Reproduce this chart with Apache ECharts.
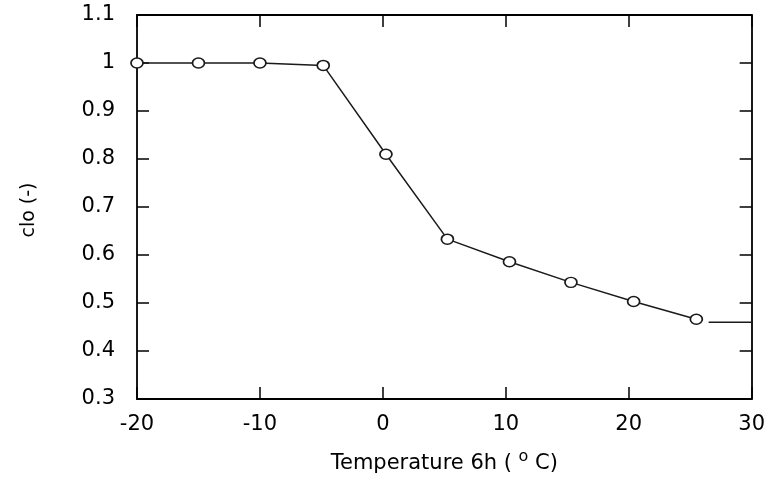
<!DOCTYPE html>
<html>
<head>
<meta charset="utf-8">
<script src="https://cdn.jsdelivr.net/npm/echarts@6/dist/echarts.min.js"></script>
<style>
  html, body { margin: 0; padding: 0; background: #fff; }
  #chart { width: 768px; height: 481px; }
</style>
</head>
<body>
<div id="chart"></div>
<script>
  // measured points (temperature, clo)
  var temps = [-20, -15, -10, -4.85, 0.25, 5.25, 10.3, 15.3, 20.4, 25.5];
  var cloValues = [1.0, 1.0, 1.0, 0.995, 0.81, 0.633, 0.586, 0.543, 0.503, 0.466];
  // short tail line at the right edge
  var tailTemps = [26.5, 30];
  var tailValues = [0.46, 0.46];

  var xTicks = [-20, -10, 0, 10, 20, 30];
  var yTicks = [0.3, 0.4, 0.5, 0.6, 0.7, 0.8, 0.9, 1, 1.1];

  var pairs = temps.map(function (t, i) { return [t, cloValues[i]]; });
  var tail = tailTemps.map(function (t, i) { return [t, tailValues[i]]; });

  var myChart = echarts.init(document.getElementById('chart'));
  var FONT = 'DejaVu Sans';
  var ink = '#000';
  var labelFont = { fontFamily: FONT, fontSize: 21, color: ink };

  // frame axis line + inside ticks, shared by all four sides
  var frameLine = { show: true, onZero: false, lineStyle: { color: ink, width: 1.8 } };
  var frameTick = { show: true, inside: true, length: 12, lineStyle: { color: ink, width: 1.5 } };

  var option = {
    animation: false,
    backgroundColor: '#fff',
    grid: { left: 137, right: 13, top: 15, bottom: 82 },
    xAxis: [
      {
        type: 'value',
        min: -20, max: 30, interval: 10,
        axisLine: frameLine,
        axisTick: frameTick,
        splitLine: { show: false },
        axisLabel: Object.assign({ margin: 15, formatter: function (v) { return xTicks.indexOf(v) >= 0 ? v : ''; } }, labelFont),
        name: '{a|Temperature 6h ( }{s|o}{a| C)}',
        nameLocation: 'middle',
        nameGap: 50,
        nameTextStyle: {
          rich: {
            a: { fontFamily: FONT, fontSize: 21, color: ink, lineHeight: 30 },
            s: { fontFamily: FONT, fontSize: 16, color: ink, padding: [0, 0, 14, 0] }
          }
        }
      },
      {
        type: 'value', position: 'top',
        min: -20, max: 30, interval: 10,
        axisLine: frameLine,
        axisTick: frameTick,
        axisLabel: { show: false },
        splitLine: { show: false }
      }
    ],
    yAxis: [
      {
        type: 'value',
        min: 0.3, max: 1.1, interval: 0.1,
        axisLine: frameLine,
        axisTick: frameTick,
        splitLine: { show: false },
        axisLabel: Object.assign({
          margin: 22,
          formatter: function (v) {
            var r = Math.round(v * 10) / 10;
            return yTicks.indexOf(r) >= 0 ? String(r) : '';
          }
        }, labelFont),
        name: 'clo (-)',
        nameLocation: 'middle',
        nameGap: 98,
        nameTextStyle: { fontFamily: FONT, fontSize: 19, color: ink, padding: [0, 0, 0, -6] }
      },
      {
        type: 'value', position: 'right',
        min: 0.3, max: 1.1, interval: 0.1,
        axisLine: frameLine,
        axisTick: frameTick,
        axisLabel: { show: false },
        splitLine: { show: false }
      }
    ],
    series: [
      {
        type: 'line',
        data: pairs,
        symbol: 'circle',
        symbolSize: [12, 10],
        showAllSymbol: true,
        lineStyle: { color: '#1a1a1a', width: 1.5 },
        itemStyle: { color: '#fff', borderColor: '#1a1a1a', borderWidth: 1.6 },
        z: 3
      },
      {
        type: 'line',
        data: tail,
        symbol: 'none',
        lineStyle: { color: '#1a1a1a', width: 1.5 }
      }
    ]
  };
  myChart.setOption(option);
</script>
</body>
</html>
